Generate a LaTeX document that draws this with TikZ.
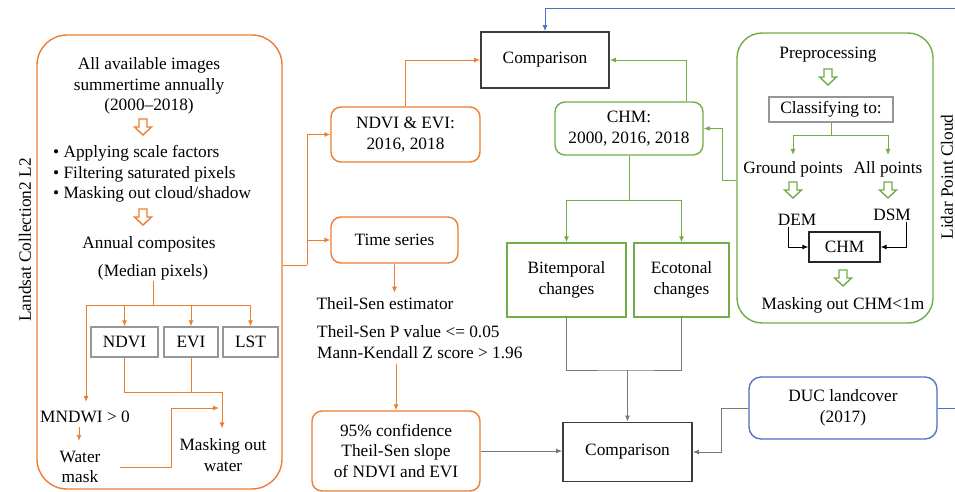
\documentclass[tikz,border=0pt]{standalone}
\usepackage{fontspec}
\setmainfont{Liberation Serif}
\usetikzlibrary{arrows.meta}
\definecolor{lsorange}{RGB}{237,125,49}
\definecolor{lsgreen}{RGB}{112,173,71}
\definecolor{lsblue}{RGB}{68,114,196}
\definecolor{boxgray}{RGB}{150,150,150}
\definecolor{linegray}{RGB}{120,120,120}
\definecolor{darkline}{RGB}{60,60,60}
\tikzset{
  txt/.style={inner sep=1pt,align=center,yshift=-2pt},
  orbox/.style={draw=lsorange,line width=1.4pt,rounded corners=10pt,align=center,inner sep=0pt},
  grbox/.style={draw=lsgreen,line width=1.4pt,align=center,inner sep=0pt},
  gybox/.style={draw=boxgray,line width=1.3pt,inner sep=0pt},
  cmpbox/.style={draw=darkline,line width=1.8pt,inner sep=0pt},
  orline/.style={draw=lsorange,line width=0.9pt},
  grline/.style={draw=lsgreen,line width=0.9pt},
  gyline/.style={draw=linegray,line width=0.9pt},
  blline/.style={draw=lsblue,line width=0.9pt},
  bkline/.style={draw=black,line width=0.9pt},
  hollow/.pic={\draw[line width=1.4pt,line join=miter] (-4,-8) -- (4,-8) -- (4,0) -- (8.5,0) -- (0,8) -- (-8.5,0) -- (-4,0) -- cycle;}
}
\begin{document}
\fontsize{17.3pt}{20.5pt}\selectfont
\begin{tikzpicture}[x=1pt,y=-1pt,>={Latex[length=6pt,width=5pt]}]
  \useasboundingbox (0,0) rectangle (955,492);
  % Landsat panel
  \node[draw=lsorange,line width=1.4pt,rounded corners=30pt,minimum width=245pt,minimum height=454pt] (landsat) at (159.5,262) {};
  \node[rotate=90] (lslabel) at (25,240) {Landsat Collection2 L2};
  \node[txt] (imgs) at (149,84) {All available images\\summertime annually\\(2000--2018)};
  \pic[lsorange] at (143,127) {hollow};
  \node[txt,align=left,anchor=west] (steps) at (52,172) {• Applying scale factors\\• Filtering saturated pixels\\• Masking out cloud/shadow};
  \pic[lsorange] at (143,217) {hollow};
  \node[txt] (annual) at (149,242) {Annual composites};
  \node[txt] (median) at (153,270) {(Median pixels)};
  \node[gybox,minimum width=67pt,minimum height=30pt] (ndvi) at (124.5,342) {NDVI};
  \node[gybox,minimum width=54pt,minimum height=30pt] (evi) at (191,342) {EVI};
  \node[gybox,minimum width=55pt,minimum height=30pt] (lst) at (250.5,342) {LST};
  \node[txt] (mndwi) at (85,415) {MNDWI > 0};
  \node[txt] (water) at (80,465) {Water\\mask};
  \node[txt] (mow) at (223,453) {Masking out\\water};
  \coordinate (split) at (153,305);
  \draw[orline] (median.south) -- (split);
  \draw[orline,->] (split) -| (ndvi.north);
  \draw[orline,->] (split) -| (evi.north);
  \draw[orline,->] (split) -| (lst.north);
  \draw[orline,->,shorten >=8pt] (split) -| ([xshift=1pt]mndwi.north);
  \draw[orline,->,shorten <=3pt,shorten >=9pt] ([xshift=-6pt]mndwi.south) -- ([xshift=-1pt]water.north);
  \coordinate (wj) at (222,392);
  \draw[orline] (ndvi.south) |- (wj);
  \draw[orline] (evi.south) -- (evi.south |- wj);
  \draw[orline,->,shorten >=9pt] (wj) -- (wj |- mow.north);
  \coordinate (wk) at (171,408);
  \coordinate (wm) at (219,408);
  \draw[orline,->,shorten <=18pt] (water.east) -| (wk) -- (wm);
  % middle column
  \node[orbox,minimum width=149pt,minimum height=55pt] (ndeb) at (405.5,134.5) {NDVI \& EVI:\\2016, 2018};
  \node[orbox,minimum width=127pt,minimum height=46pt] (tseries) at (394.5,240) {Time series};
  \node[txt] (tse) at (385,302) {Theil-Sen estimator};
  \node[txt,align=left,anchor=west] (params) at (316,340) {Theil-Sen P value <= 0.05\\Mann-Kendall Z score > 1.96};
  \node[orbox,minimum width=168pt,minimum height=80pt] (conf) at (396,451) {95\% confidence\\Theil-Sen slope\\of NDVI and EVI};
  \node[cmpbox,minimum width=128pt,minimum height=56pt] (cmp1) at (545,60) {Comparison};
  \node[cmpbox,minimum width=129pt,minimum height=59pt] (cmp2) at (627.5,452) {Comparison};
  \coordinate (lj) at (307,265);
  \draw[orline] (landsat.east |- lj) -- (lj);
  \draw[orline,->] (lj) |- (ndeb.west);
  \draw[orline,->] (lj) |- (tseries.west);
  \draw[orline,->] (ndeb.north) |- (cmp1.west);
  \draw[orline,->,shorten >=4pt] (tseries.south) -- (tseries.south |- tse.north);
  \draw[orline,->,shorten <=4pt] (conf.north |- params.south) -- (conf.north);
  \draw[gyline,->] (conf.east) -- (conf.east -| cmp2.west);
  % CHM and change boxes
  \node[grbox,rounded corners=10pt,minimum width=148pt,minimum height=53pt] (chm1) at (629,128.5) {CHM:\\2000, 2016, 2018};
  \node[grbox,minimum width=119pt,minimum height=74pt] (bitemp) at (566.5,280) {Bitemporal\\changes};
  \node[grbox,minimum width=95pt,minimum height=74pt] (ecot) at (681.5,280) {Ecotonal\\changes};
  \draw[grline,->] ([xshift=57pt]chm1.north) |- (cmp1.east);
  \coordinate (cs) at (629,200);
  \draw[grline] (chm1.south) -- (cs);
  \draw[grline,->] (cs) -| (bitemp.north);
  \draw[grline,->] (cs) -| (ecot.north);
  \coordinate (bj) at (627.5,370);
  \draw[gyline] (bitemp.south) |- (bj) -| (ecot.south);
  \draw[gyline,->] (bj) -- (cmp2.north);
  % landcover
  \node[draw=lsblue,line width=1.3pt,rounded corners=12pt,minimum width=188pt,minimum height=62pt,align=center,inner sep=0pt] (duc) at (843,408) {DUC landcover\\(2017)};
  \coordinate (dj) at (721,408);
  \draw[gyline,->] (duc.west) -- (dj) |- (cmp2.east);
  \coordinate (rb) at (955,408);
  \coordinate (rt) at (955,8);
  \draw[blline] (duc.east) -- (rb);
  \draw[blline,->] (rt) -| (cmp1.north);
  % Lidar panel
  \node[draw=lsgreen,line width=1.4pt,rounded corners=25pt,minimum width=196pt,minimum height=290pt] (lidar) at (835,178) {};
  \node[rotate=90] (lilabel) at (947,177) {Lidar Point Cloud};
  \node[txt] (prep) at (828,53) {Preprocessing};
  \pic[lsgreen] at (828,77) {hollow};
  \node[gybox,minimum width=124pt,minimum height=25pt] (classify) at (831,109.5) {Classifying to:};
  \node[txt] (ground) at (793,167) {Ground points};
  \node[txt] (allp) at (888,167) {All points};
  \coordinate (cj) at (831,135);
  \draw[grline] (classify.south) -- (cj);
  \draw[grline,->,shorten >=5pt] (cj) -| (ground.north);
  \draw[grline,->,shorten >=5pt] (cj) -| (allp.north);
  \coordinate (lc) at (722,180);
  \draw[grline,->] (lidar.west |- lc) -- (lc) |- (chm1.east);
  \pic[lsgreen] at (793,190) {hollow};
  \pic[lsgreen] at (888,190) {hollow};
  \node[txt] (dem) at (797,218) {DEM};
  \node[txt] (dsm) at (892,213) {DSM};
  \node[draw=black!85,line width=1.3pt,minimum width=71pt,minimum height=30pt,inner sep=0pt] (chm2) at (844.5,247) {CHM};
  \draw[bkline,->] ([xshift=-9pt]dem.south) |- (chm2.west);
  \draw[bkline,->] ([xshift=14pt]dsm.south) |- (chm2.east);
  \pic[lsgreen] at (843,278) {hollow};
  \node[txt] (maskchm) at (843,303) {Masking out CHM<1m};
\end{tikzpicture}
\end{document}
